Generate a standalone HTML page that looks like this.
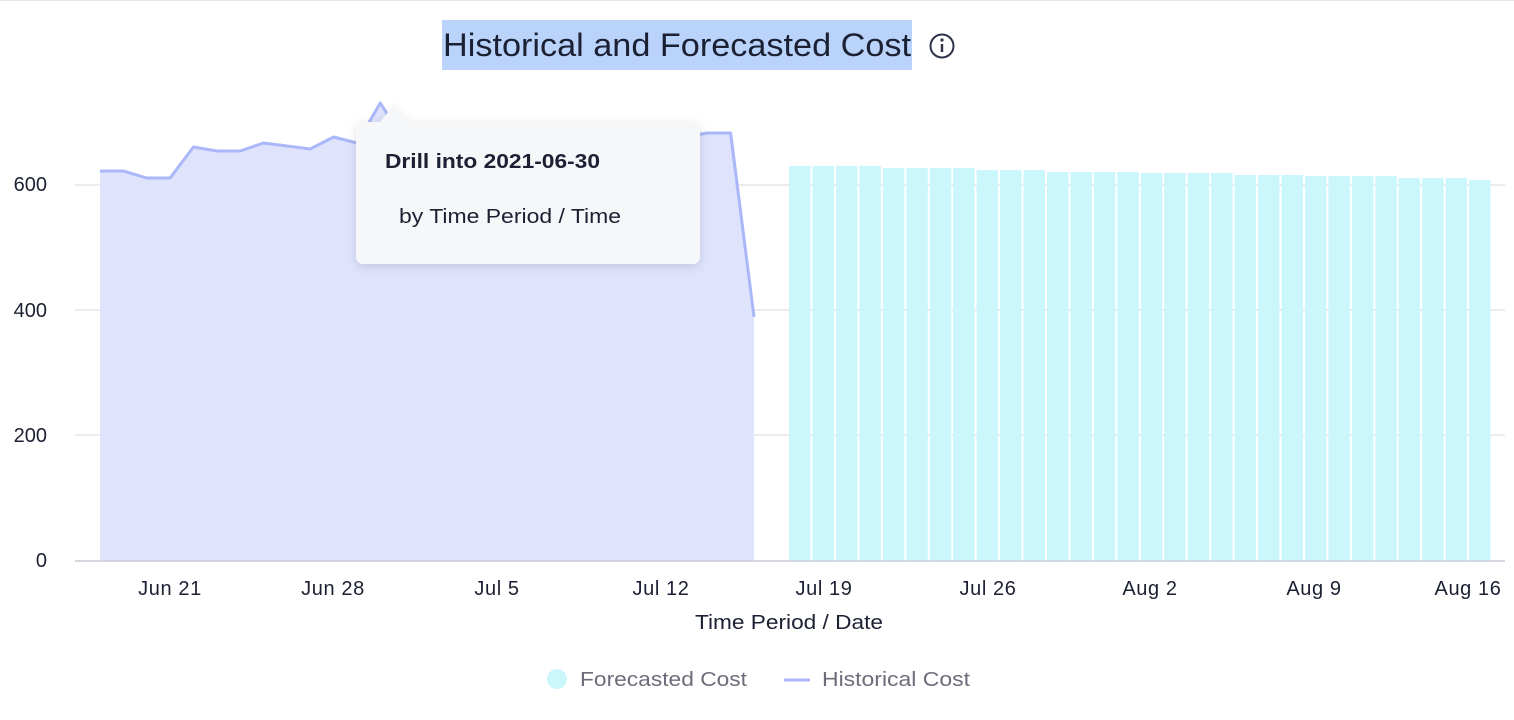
<!DOCTYPE html>
<html><head><style>
body{margin:0;background:#fff;width:1514px;height:720px;overflow:hidden;font-family:"Liberation Sans",sans-serif;position:relative}
</style></head><body>
<div style="position:absolute;left:0;top:0;width:1514px;height:1px;background:#e6e6e6"></div>
<div style="position:absolute;left:442px;top:20px;width:470px;height:50px;background:#b9d3fb"></div>
<svg style="position:absolute;left:0;top:0" width="1514" height="720">
<text x="443" y="56" font-size="32" fill="#1c2033" textLength="468" lengthAdjust="spacingAndGlyphs">Historical and Forecasted Cost</text>
<circle cx="942" cy="46" r="11.5" fill="none" stroke="#2e3247" stroke-width="2"/>
<circle cx="942" cy="40" r="1.6" fill="#2e3247"/><rect x="940.8" y="44" width="2.4" height="8" fill="#2e3247"/>
<g stroke="#e3e5ee" stroke-width="1.5"><line x1="75" x2="1505" y1="185" y2="185"/><line x1="75" x2="1505" y1="310" y2="310"/><line x1="75" x2="1505" y1="435" y2="435"/></g>
<g id="bars" fill="#cbf7fc"></g>
<polygon id="area" fill="#dfe3fc"/>
<polyline id="line" fill="none" stroke="#aab7f8" stroke-width="3" stroke-linejoin="round"/>
<line x1="75" x2="1505" y1="561" y2="561" stroke="#c9ccd6" stroke-width="1.5"/>
<g font-size="20" fill="#1c2033" text-anchor="end"><text x="47" y="191">600</text><text x="47" y="317">400</text><text x="47" y="442">200</text><text x="47" y="567">0</text></g>
<g font-size="20" fill="#1c2033" text-anchor="middle" letter-spacing="0.6">
<text x="170" y="595">Jun 21</text><text x="333" y="595">Jun 28</text><text x="497" y="595">Jul 5</text><text x="661" y="595">Jul 12</text><text x="824" y="595">Jul 19</text><text x="988" y="595">Jul 26</text><text x="1150" y="595">Aug 2</text><text x="1314" y="595">Aug 9</text><text x="1468" y="595">Aug 16</text></g>
<text x="695" y="629" font-size="20" fill="#1c2033" textLength="188" lengthAdjust="spacingAndGlyphs">Time Period / Date</text>
<circle cx="557" cy="679" r="10" fill="#cbf7fc"/>
<text x="580" y="686" font-size="20" fill="#6b6e7a" textLength="167" lengthAdjust="spacingAndGlyphs">Forecasted Cost</text>
<line x1="784" x2="810" y1="680" y2="680" stroke="#aab7f8" stroke-width="3"/>
<text x="822" y="686" font-size="20" fill="#6b6e7a" textLength="148" lengthAdjust="spacingAndGlyphs">Historical Cost</text>
<defs><filter id="sh" x="-20%" y="-20%" width="140%" height="150%"><feDropShadow dx="0" dy="3" stdDeviation="5" flood-color="#000" flood-opacity="0.12"/></filter></defs>
<g filter="url(#sh)"><rect x="356" y="122" width="344" height="142" rx="7" fill="#f6f7f9"/><polygon points="380,122 394,105 408,122" fill="#f6f7f9"/></g>
<text x="385" y="168" font-size="20" font-weight="bold" fill="#1c2033" textLength="215" lengthAdjust="spacingAndGlyphs">Drill into 2021-06-30</text>
<text x="399" y="223" font-size="20" fill="#1c2033" textLength="222" lengthAdjust="spacingAndGlyphs">by Time Period / Time</text>
</svg>
<script>
var ys=[171,171,178,178,147,151,151,143,146,149,137,143,103,140,138,136,137,139,137,135,134,136,134,133,136,137,133,133,317];
var pts=ys.map(function(y,i){return (100+i*(654/28)).toFixed(1)+","+y});
document.getElementById('line').setAttribute('points',pts.join(' '));
document.getElementById('area').setAttribute('points','100,561 '+pts.join(' ')+' 754,561');
var tops=[166,166,166,166,168,168,168,168,170,170,170,172,172,172,172,173,173,173,173,175,175,175,176,176,176,176,178,178,178,180];
var g=document.getElementById('bars'),s='';
for(var i=0;i<30;i++){s+='<rect x="'+(789+i*23.45).toFixed(1)+'" y="'+tops[i]+'" width="21.5" height="'+(561-tops[i])+'"/>';}
g.innerHTML=s;
</script>
</body></html>
